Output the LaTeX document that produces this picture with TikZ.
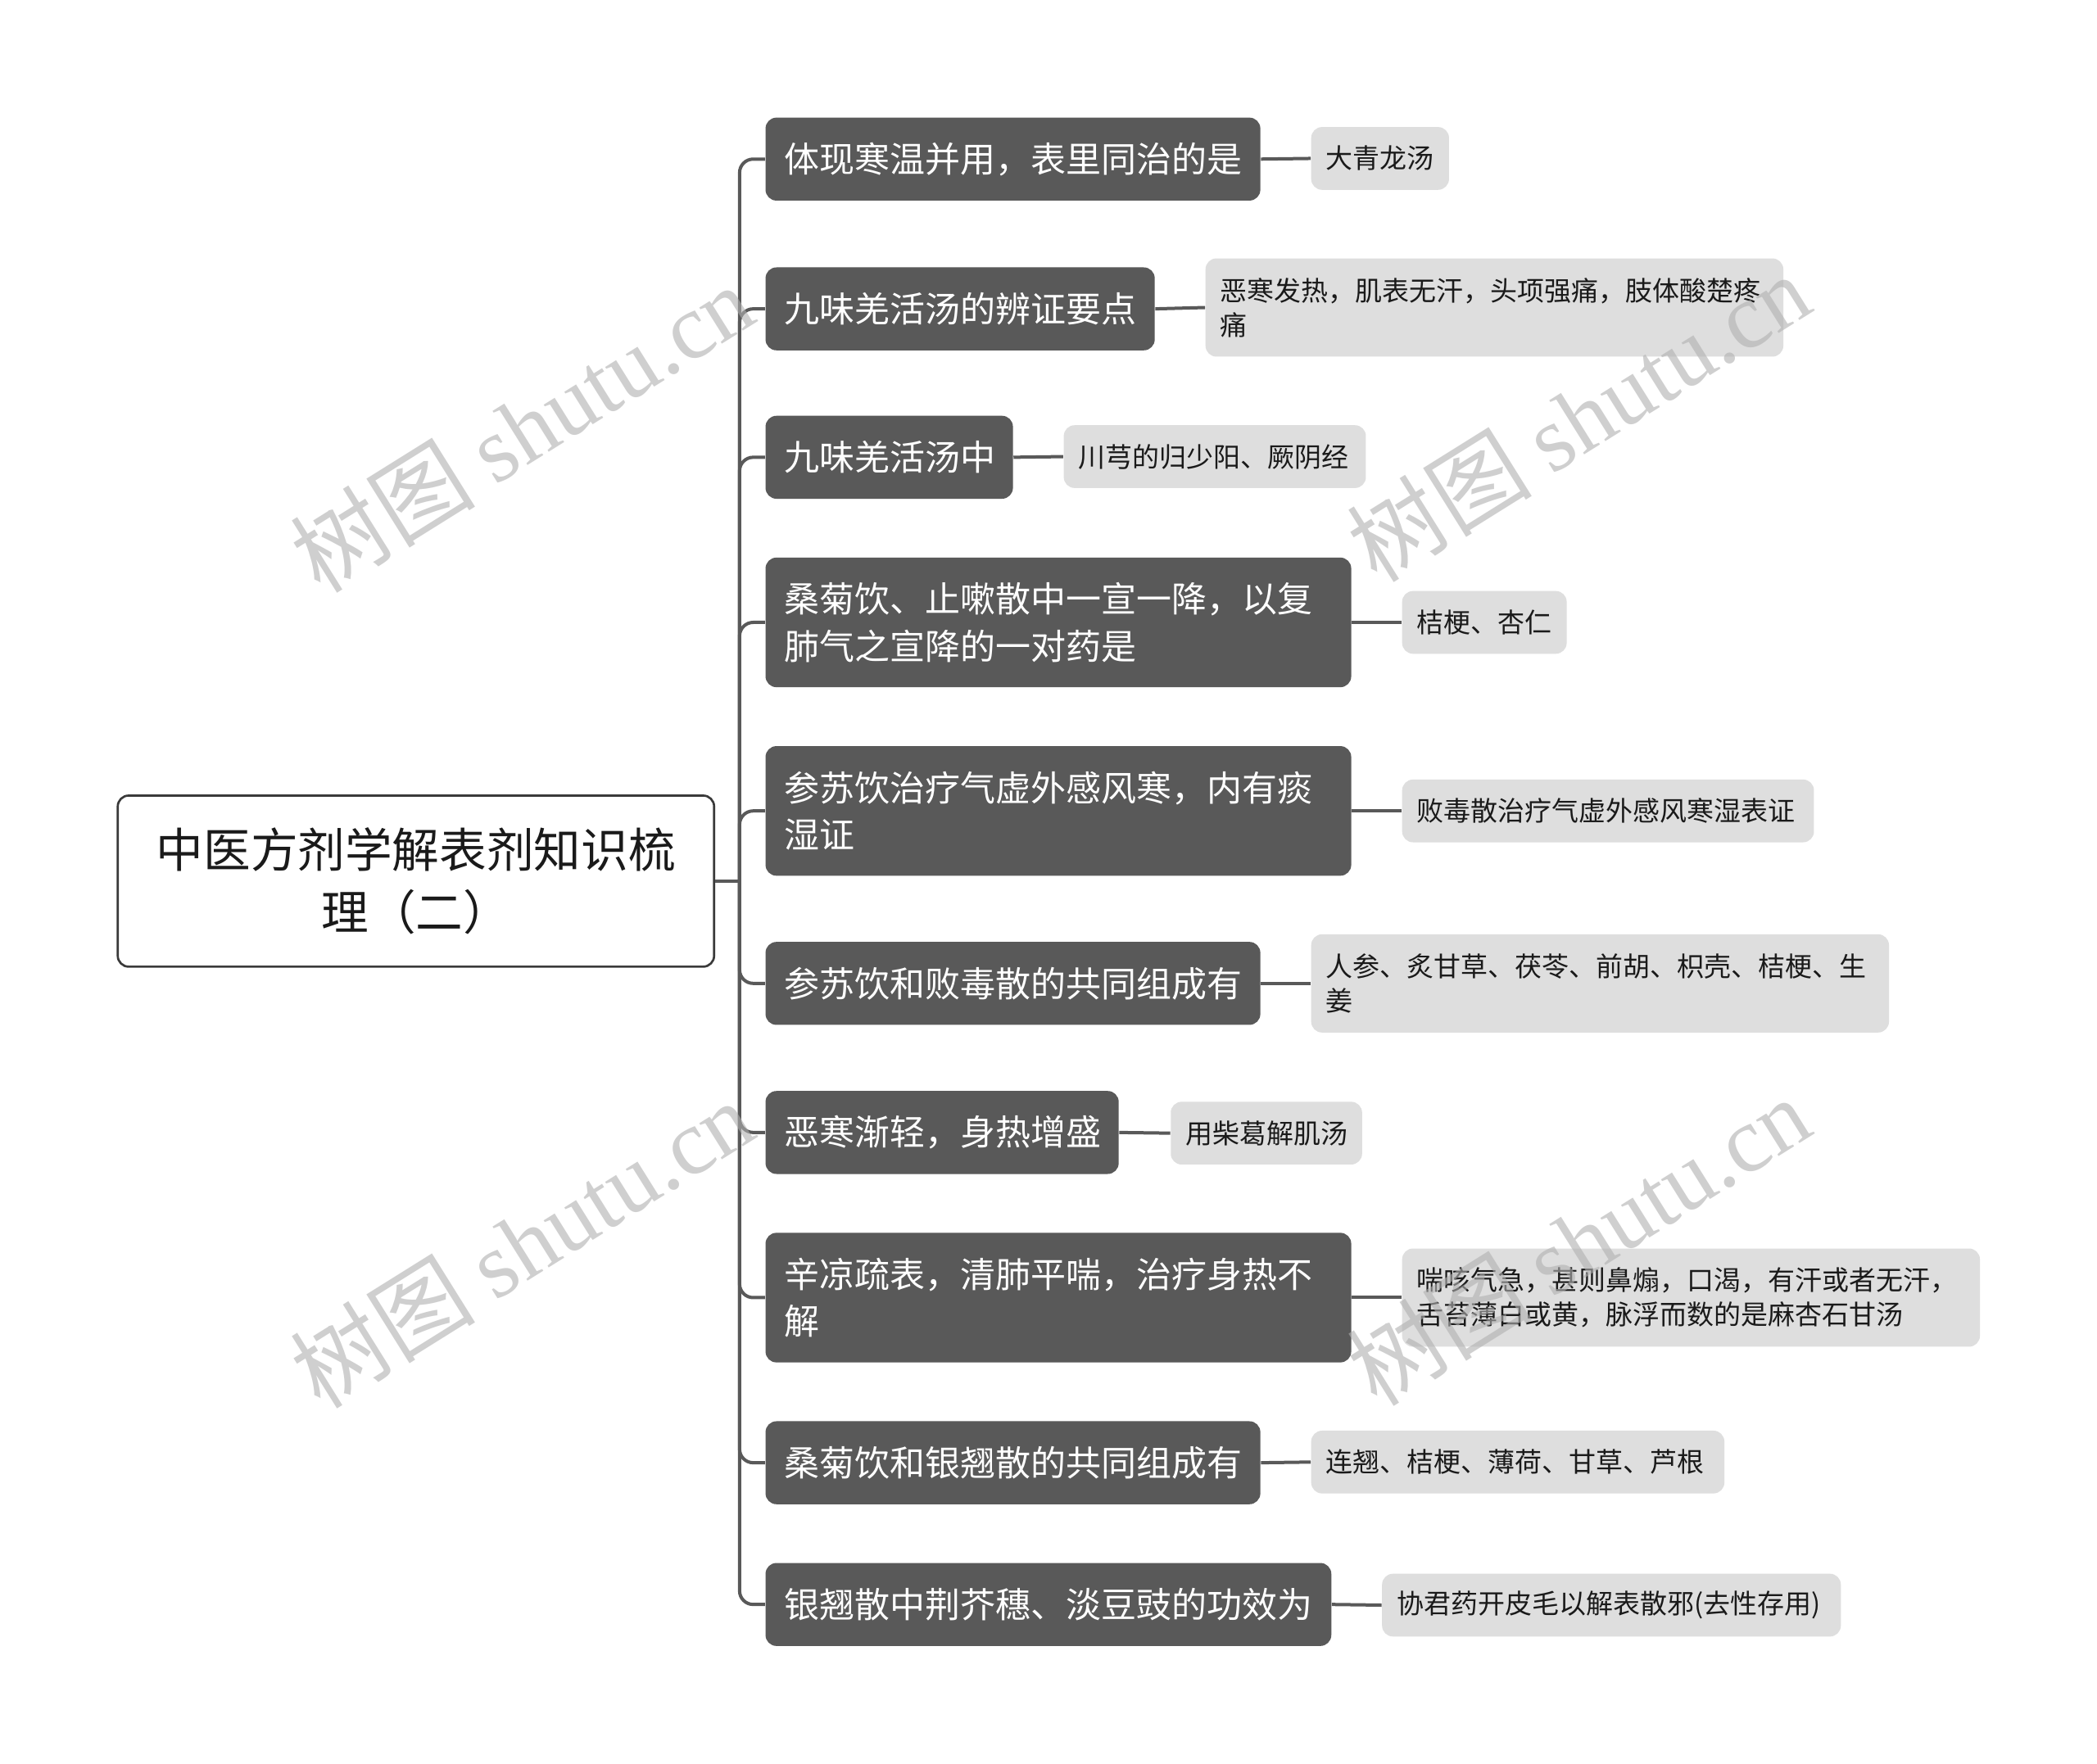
\documentclass[tikz,border=0pt]{standalone}
\usepackage{fontspec}
\setmainfont{Noto Sans CJK SC}
\newfontfamily\wmfont{Liberation Serif}
\newfontfamily\wmcjk{Noto Sans CJK SC}
\definecolor{brc}{HTML}{595959}
\definecolor{lfc}{HTML}{DEDEDE}
\definecolor{txc}{HTML}{1A1A1A}
\definecolor{rootb}{HTML}{3A3A3A}
\definecolor{wmc}{HTML}{B0B0B0}
\begin{document}
\begin{tikzpicture}[x=0.49pt,y=-0.49pt,
  branch/.style={fill=brc, text=white, rounded corners=4pt, anchor=west,
    font=\fontsize{12.9}{17.2}\selectfont, inner xsep=6.9pt, inner ysep=0pt,
    align=left, minimum height=30.4pt},
  branchtwo/.style={branch, minimum height=47.5pt},
  leaf/.style={fill=lfc, text=txc, rounded corners=4pt, anchor=west,
    font=\fontsize{9.9}{12.7}\selectfont, inner xsep=5.4pt, inner ysep=0pt,
    align=left, minimum height=23pt},
  leaftwo/.style={leaf, minimum height=36pt},
  conn/.style={draw=brc, line width=1.2pt},
  wm/.style={text=wmc, text opacity=0.6, rotate=32, font=\fontsize{34}{34}\selectfont}]
\useasboundingbox (0,0) rectangle (1568,1319);
\fill[white] (0,0) rectangle (1568,1319);

% root
\node[draw=rootb, line width=0.8pt, fill=white, rounded corners=4pt, text=txc,
  minimum width=218.5pt, minimum height=62.7pt, align=center,
  font=\fontsize{17.3}{23}\selectfont] (root) at (311,659)
  {中医方剂学解表剂知识梳\\理（二）};

% branches
\node[branch, text width=167.5pt] (b1) at (572,119) {体现寒温并用，表里同治的是};
\node[branch, text width=128.8pt] (b2) at (572,231) {九味羌活汤的辨证要点};
\node[branch, text width=76.85pt] (b3) at (572,342) {九味羌活汤中};
\node[branchtwo, text width=200.8pt] (b4) at (572,465.5) {桑菊饮、止嗽散中一宣一降，以复\\肺气之宣降的一对药是};
\node[branchtwo, text width=200.8pt] (b5) at (572,606.5) {参苏饮治疗气虚外感风寒，内有痰\\湿证};
\node[branch, text width=167.5pt] (b6) at (572,735.5) {参苏饮和败毒散的共同组成有};
\node[branch, text width=115.6pt] (b7) at (572,847) {恶寒渐轻，身热增盛};
\node[branchtwo, text width=200.8pt] (b8) at (572,970.5) {辛凉疏表，清肺平喘，治疗身热不\\解};
\node[branch, text width=167.5pt] (b9) at (572,1094) {桑菊饮和银翘散的共同组成有};
\node[branch, text width=193.5pt] (b10) at (572,1200) {银翘散中荆芥穗、淡豆豉的功效为};

% leaves
\node[leaf, text width=39.7pt] (l1) at (980,118.5) {大青龙汤};
\node[leaftwo, text width=200.9pt] (l2) at (901,230) {恶寒发热，肌表无汗，头项强痛，肢体酸楚疼\\痛};
\node[leaf, text width=99.9pt] (l3) at (795,341.5) {川芎的归少阳、厥阴经};
\node[leaf, text width=49.5pt] (l4) at (1048,465.5) {桔梗、杏仁};
\node[leaf, text width=140.1pt] (l5) at (1048,606.5) {败毒散治疗气虚外感风寒湿表证};
\node[leaftwo, text width=200.9pt] (l6) at (980,735.5) {人参、炙甘草、茯苓、前胡、枳壳、桔梗、生\\姜};
\node[leaf, text width=59.3pt] (l7) at (875,847.5) {用柴葛解肌汤};
\node[leaftwo, text width=200.9pt] (l8) at (1048,970.5) {喘咳气急，甚则鼻煽，口渴，有汗或者无汗，\\舌苔薄白或黄，脉浮而数的是麻杏石甘汤};
\node[leaf, text width=140.6pt] (l9) at (980,1093.5) {连翘、桔梗、薄荷、甘草、芦根};
\node[leaf, text width=157.3pt] (l10) at (1033,1200.5) {协君药开皮毛以解表散邪(去性存用)};

% connectors
\coordinate (hub) at (553,659);
\draw[conn] (root.east) -- (hub);
\foreach \i in {1,...,10} {
  \draw[conn, rounded corners=5pt] (hub) |- (b\i.west);
  \draw[conn] (b\i.east) -- (l\i.west);
}

% watermarks (on top, translucent)
\foreach \p/\n in {{(390,320)}/w1,{(1180,312)}/w2,{(390,930)}/w3,{(1180,928)}/w4}
  \node[wm] (\n) at \p {{\wmcjk 树图} {\wmfont shutu.cn}};
\end{tikzpicture}
\end{document}
